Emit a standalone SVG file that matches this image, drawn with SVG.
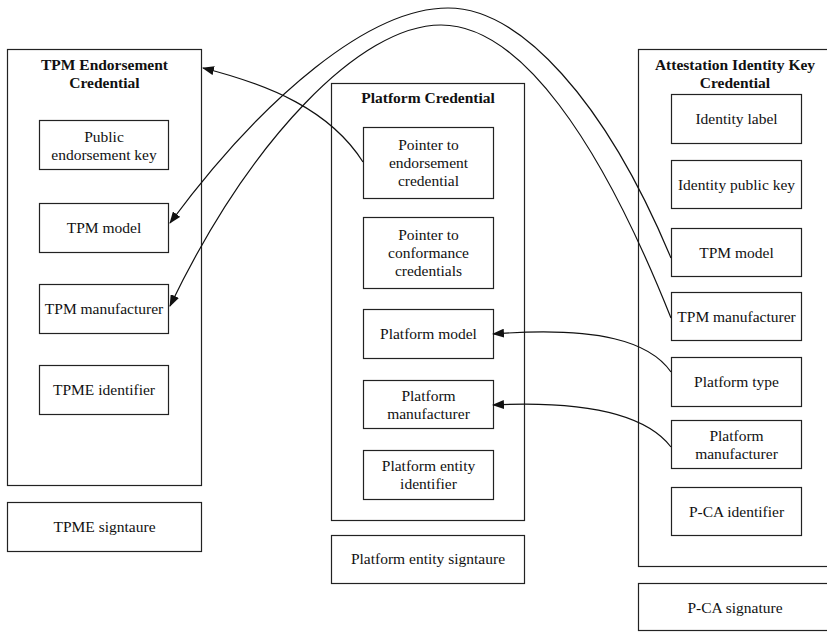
<svg xmlns="http://www.w3.org/2000/svg" width="827" height="632" viewBox="0 0 827 632">
<style>
rect{fill:#fff;stroke:#222;stroke-width:1.2}
text{font-family:"Liberation Serif","Times New Roman",serif;font-size:15.5px;fill:#111;text-anchor:middle}
.t{font-weight:bold}
.c{fill:none;stroke:#111;stroke-width:1.2}
</style>
<defs>
<marker id="ah" markerWidth="12" markerHeight="9" refX="11" refY="4.5" orient="auto" markerUnits="userSpaceOnUse">
<path d="M0,0 L12,4.5 L0,9 Z" fill="#111"/>
</marker>
</defs>
<rect x="0" y="0" width="827" height="632" style="stroke:none"/>
<g id="tpm-ec">
<rect x="7.5" y="49.5" width="194" height="436"/>
<text class="t" x="104.5" y="70">TPM Endorsement</text>
<text class="t" x="104.5" y="88">Credential</text>
</g>
<g id="ec-pubkey"><rect x="39.5" y="120.5" width="129" height="49"/><text x="104" y="142">Public</text><text x="104" y="160">endorsement key</text></g>
<g id="ec-tpm-model"><rect x="39.5" y="203.5" width="129" height="49"/><text x="104" y="233">TPM model</text></g>
<g id="ec-tpm-manuf"><rect x="39.5" y="284.5" width="129" height="49"/><text x="104" y="314">TPM manufacturer</text></g>
<g id="ec-tpme-id"><rect x="39.5" y="365.5" width="129" height="49"/><text x="104" y="395">TPME identifier</text></g>
<g id="ec-sig"><rect x="7.5" y="502.5" width="194" height="49"/><text x="104.5" y="532">TPME signtaure</text></g>

<g id="pc">
<rect x="331.5" y="83.5" width="193" height="437"/>
<text class="t" x="428" y="103">Platform Credential</text>
</g>
<g id="pc-ptr-ec"><rect x="363.5" y="127.5" width="130" height="71"/><text x="428.5" y="150">Pointer to</text><text x="428.5" y="168">endorsement</text><text x="428.5" y="186">credential</text></g>
<g id="pc-ptr-cc"><rect x="363.5" y="217.5" width="130" height="71"/><text x="428.5" y="240">Pointer to</text><text x="428.5" y="258">conformance</text><text x="428.5" y="276">credentials</text></g>
<g id="pc-model"><rect x="363.5" y="309.5" width="130" height="49"/><text x="428.5" y="339">Platform model</text></g>
<g id="pc-manuf"><rect x="363.5" y="380.5" width="130" height="48"/><text x="428.5" y="401">Platform</text><text x="428.5" y="419">manufacturer</text></g>
<g id="pc-entity-id"><rect x="363.5" y="450.5" width="130" height="49"/><text x="428.5" y="471">Platform entity</text><text x="428.5" y="489">identifier</text></g>
<g id="pc-sig"><rect x="331.5" y="535.5" width="193" height="48"/><text x="428" y="564">Platform entity signtaure</text></g>

<g id="aik">
<rect x="638.5" y="49.5" width="200" height="517"/>
<text class="t" x="735" y="70">Attestation Identity Key</text>
<text class="t" x="735" y="88">Credential</text>
</g>
<g id="aik-label"><rect x="671.5" y="94.5" width="130" height="49"/><text x="736.5" y="124">Identity label</text></g>
<g id="aik-pubkey"><rect x="671.5" y="160.5" width="130" height="48"/><text x="736.5" y="190">Identity public key</text></g>
<g id="aik-tpm-model"><rect x="671.5" y="228.5" width="130" height="48"/><text x="736.5" y="258">TPM model</text></g>
<g id="aik-tpm-manuf"><rect x="671.5" y="292.5" width="130" height="48"/><text x="736.5" y="322">TPM manufacturer</text></g>
<g id="aik-ptype"><rect x="671.5" y="357.5" width="130" height="49"/><text x="736.5" y="387">Platform type</text></g>
<g id="aik-pmanuf"><rect x="671.5" y="420.5" width="130" height="48"/><text x="736.5" y="441">Platform</text><text x="736.5" y="459">manufacturer</text></g>
<g id="aik-pca-id"><rect x="671.5" y="487.5" width="130" height="48"/><text x="736.5" y="517">P-CA identifier</text></g>
<g id="aik-sig"><rect x="638.5" y="583.5" width="200" height="47"/><text x="735" y="613">P-CA signature</text></g>

<g id="connectors">
<path class="c" d="M363,162 C330,110 270,85 203,68" marker-end="url(#ah)"/>
<path class="c" d="M671,258 C605,100 520,8 448,8 C370,8 265,95 170,223" marker-end="url(#ah)"/>
<path class="c" d="M671,318 C600,140 520,25 441,25 C360,25 250,140 170,306" marker-end="url(#ah)"/>
<path class="c" d="M671,372 C650,342 600,326 493,334" marker-end="url(#ah)"/>
<path class="c" d="M671,447 C650,420 600,400 493,405" marker-end="url(#ah)"/>
</g>
</svg>
